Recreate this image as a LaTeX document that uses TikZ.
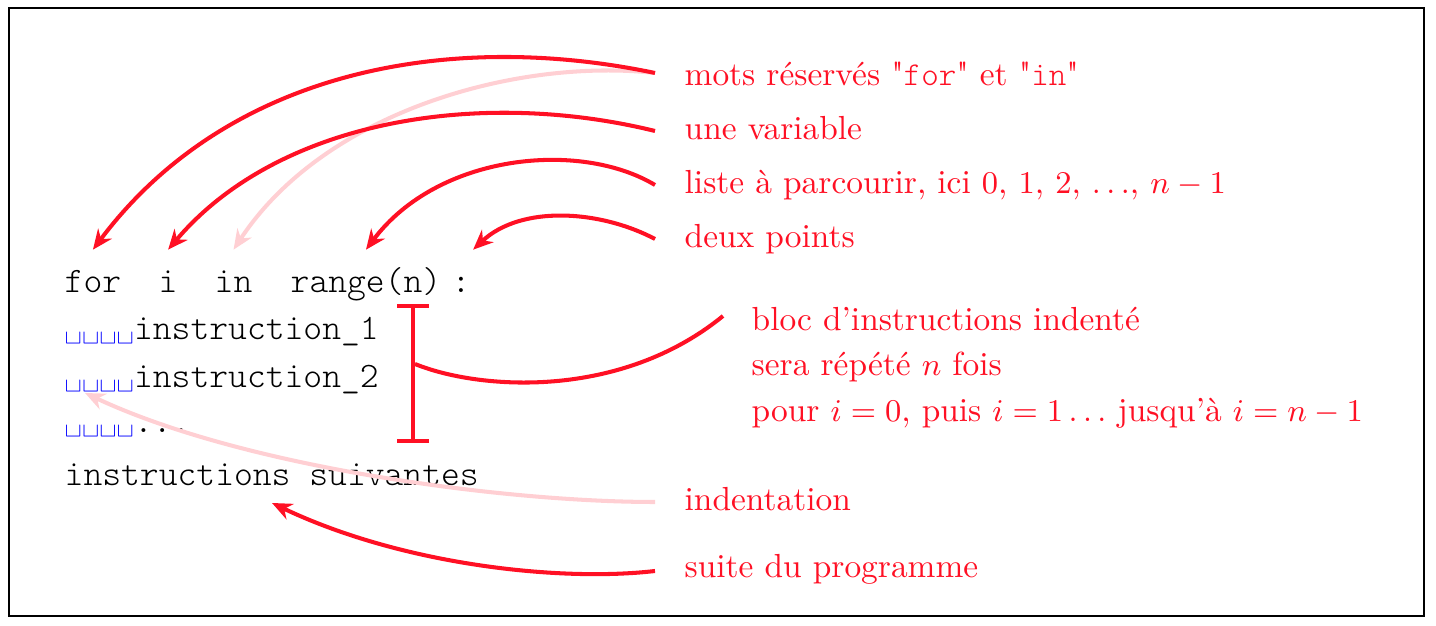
\documentclass[tikz,border=0pt]{standalone}
\usepackage{tikz}
\usetikzlibrary{arrows.meta}
\definecolor{rouge}{RGB}{255,16,36}
\newcommand{\blancs}{{\color{blue}\fontsize{9.4}{11}\selectfont\textvisiblespace\textvisiblespace\textvisiblespace\textvisiblespace}}
\newcommand{\mot}[1]{{\fontseries{l}\ttfamily\selectfont #1}}
\tikzset{
  code/.style={anchor=base west,inner sep=0pt,text height=7pt,text depth=0pt,font=\fontsize{10.2}{12}\fontseries{l}\ttfamily\selectfont},
  expl/.style={anchor=base west,inner xsep=2.9mm,inner ysep=0pt,text=rouge,font=\fontsize{9.5}{13}\selectfont},
  fleche/.style={rouge,line width=1.15pt,-{Stealth[length=2mm,width=1.7mm]}},
  pale/.style={fleche,rouge!20}
}

\begin{document}
\begin{tikzpicture}[x=0.1mm,y=0.1mm]
  \useasboundingbox (0,0) rectangle (1436,626);
  \draw[line width=0.6pt] (9,10) rectangle (1424,618);
  % le programme
  \node[code] (for) at (64,333) {for};
  \node[code] (i) at (158,333) {i};
  \node[code] (in) at (214,333) {in};
  \node[code] (range) at (290,333) {range(n)};
  \node[code] (colon) at (451,333) {:};
  \node[code] (ins1) at (64,286) {\blancs instruction\_1};
  \node[code] (ins2) at (64,238) {\blancs instruction\_2};
  \node[code] (dots) at (64,193) {\blancs ...};
  \node[code] (suiv) at (64,140) {instructions suivantes};
  % les explications
  \node[expl] (lmots) at (655,540) {mots réservés \textquotedbl\mot{for}\textquotedbl{} et \textquotedbl\mot{in}\textquotedbl};
  \node[expl] (lvar) at (655,486) {une variable};
  \node[expl] (lliste) at (655,432) {liste à parcourir, ici $0$, $1$, $2$, $\ldots$, $n-1$};
  \node[expl] (ldeux) at (655,378) {deux points};
  \node[expl,anchor=north west,align=left,inner xsep=2.8mm] (bloc) at (723,320)
    {bloc d’instructions indenté\\ sera répété $n$ fois\\ pour $i=0$, puis $i=1\ldots$ jusqu’à $i=n-1$};
  \node[expl] (lindent) at (655,115) {indentation};
  \node[expl] (lsuite) at (655,48) {suite du programme};
  % accolade du bloc
  \coordinate (btop) at (413,322);
  \coordinate (bbot) at (413,183);
  \coordinate (bmid) at (415,262);
  % fleches pales d'abord
  \draw[pale] ([yshift=1.3mm]lmots.base west) .. controls +(-135,15) and +(92,140) .. ([yshift=1.8mm]in.north);
  \draw[pale] ([yshift=.9mm]lindent.base west) .. controls +(-150,0) and +(160,-75) .. ([shift={(2.1mm,-.5mm)}]ins2.base west);
  \draw[fleche] ([yshift=1.3mm]lmots.base west) .. controls +(-205,43) and +(135,180) .. ([yshift=1.8mm]for.north);
  \draw[fleche] ([yshift=.9mm]lvar.base west) .. controls +(-175,43) and +(110,130) .. ([yshift=1.8mm]i.north);
  \draw[fleche] ([yshift=.9mm]lliste.base west) .. controls +(-75,45) and +(72,96) .. ([yshift=1.8mm]range.north);
  \draw[fleche] ([yshift=.9mm]ldeux.base west) .. controls +(-55,29) and +(48,45) .. ([shift={(1.2mm,1.8mm)}]colon.north);
  \draw[rouge,line width=1.15pt,{Bar[width=3.2mm]}-{Bar[width=3.2mm]}] (btop) -- (bbot);
  \draw[rouge,line width=1.15pt] ([yshift=-1mm]bloc.north west) .. controls +(-103,-84) and +(64,-26) .. (bmid);
  \draw[fleche] ([yshift=.7mm]lsuite.base west) .. controls +(-95,-11) and +(130,-62) .. ([shift={(20.8mm,-1.7mm)}]suiv.base west);
\end{tikzpicture}
\end{document}
